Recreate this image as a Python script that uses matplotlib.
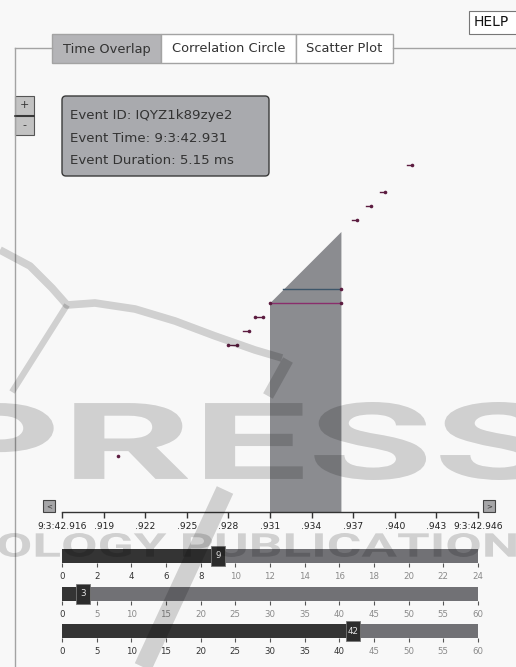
import numpy as np
import matplotlib
matplotlib.use("Agg")
import matplotlib.pyplot as plt
from matplotlib.patches import Rectangle, FancyBboxPatch, PathPatch
from matplotlib.textpath import TextPath
from matplotlib.font_manager import FontProperties
from matplotlib.transforms import Affine2D

W, H = 516, 667

# events: start (seconds past 9:3), duration (ms), row level
ev_start = [42.92004, 42.92799, 42.92905, 42.92992, 42.93100,
            42.93194, 42.93691, 42.93792, 42.93893, 42.94088]
ev_dur = [0.0, 0.65, 0.43, 0.58, 5.15, 4.18, 0.36, 0.36, 0.36, 0.36]
ev_level = [4.0, 11.9, 12.9, 13.9, 14.9, 15.9, 20.85, 21.85, 22.85, 24.8]
ev_color = ["#5c1c40"] * 10
ev_color[4] = "#8a2d6c"
ev_color[5] = "#3d566a"
selected = 4
overlap_top = 20.0

time_ticks = np.round(np.arange(42.916, 42.9461, 0.003), 3)
time_labels = ["9:3:42.916"] + ["." + f"{t:.3f}".split(".")[1] for t in time_ticks[1:-1]] + ["9:3:42.946"]

# sliders: hour, minute, second
slider_max = [24, 60, 60]
slider_step = [2, 5, 5]
slider_val = [9, 3, 42]
slider_top = [549, 587, 624]

tabs = ["Time Overlap", "Correlation Circle", "Scatter Plot"]
tab_edges = [52, 161, 296, 393]
info_lines = ["Event ID: IQYZ1k89zye2", "Event Time: 9:3:42.931",
              "Event Duration: 5.15 ms"]

BG = "#f8f8f8"
fig = plt.figure(figsize=(W / 100, H / 100), dpi=100, facecolor=BG)


def px_axes(z):
    a = fig.add_axes([0, 0, 1, 1], zorder=z)
    a.set_xlim(0, W)
    a.set_ylim(H, 0)
    a.axis("off")
    a.patch.set_alpha(0)
    return a


def frac(x0, ytop, x1, ybot):
    return [x0 / W, (H - ybot) / H, (x1 - x0) / W, (ybot - ytop) / H]


# --- page chrome ---
bg = px_axes(0)
frame_c = "#a3a3a3"
bg.plot([15, 15], [48, H], color=frame_c, lw=1)
bg.plot([15, 52], [48, 48], color=frame_c, lw=1)
bg.plot([393, W], [48, 48], color=frame_c, lw=1)
for i, name in enumerate(tabs):
    fc = "#b4b4b7" if i == 0 else "white"
    bg.add_patch(Rectangle((tab_edges[i], 34), tab_edges[i + 1] - tab_edges[i], 29,
                           fc=fc, ec=frame_c, lw=1))
    bg.text((tab_edges[i] + tab_edges[i + 1]) / 2, 49, name, ha="center", va="center",
            fontsize=9.4, color="#333333")

bg.add_patch(Rectangle((469, 11), 60, 23, fc="white", ec="#777777", lw=0.8))
bg.text(474, 22.5, "HELP", ha="left", va="center", fontsize=10, color="#111111")

bg.add_patch(Rectangle((15, 96), 19, 19, fc="#c2c2c2", ec="#555555", lw=0.8))
bg.add_patch(Rectangle((15, 116), 19, 19, fc="#c2c2c2", ec="#555555", lw=0.8))
bg.plot([15, 34], [115.5, 115.5], color="#333333", lw=1.2)
bg.text(24.5, 105, "+", ha="center", va="center", fontsize=8, color="#333333")
bg.text(24.5, 125, "-", ha="center", va="center", fontsize=8, color="#333333")

bg.add_patch(FancyBboxPatch((64, 98), 203, 76, boxstyle="round,pad=2,rounding_size=4",
                            fc="#a9aaae", ec="#3a3a3a", lw=1))
for i, line in enumerate(info_lines):
    bg.text(70, 115 + 23 * i, line, ha="left", va="center", fontsize=9.6, color="#333333")

for x0, sym in [(43, "<"), (483, ">")]:
    bg.add_patch(Rectangle((x0, 500), 12, 12, fc="#a6a6a8", ec="#444444", lw=0.8))
    bg.text(x0 + 6, 506, sym, ha="center", va="center", fontsize=5, color="#333333")

# --- time overlap plot ---
ax = fig.add_axes(frac(62, 60, 478, 512), zorder=1)
ax.patch.set_alpha(0)
ax.set_xlim(42.916, 42.946)
ax.set_ylim(0, (512 - 60) / 14)
for s in ["top", "left", "right"]:
    ax.spines[s].set_visible(False)
ax.spines["bottom"].set_color("#333333")
ax.spines["bottom"].set_linewidth(1)
ax.set_yticks([])
ax.set_xticks(time_ticks)
ax.set_xticklabels(time_labels, fontsize=6.6, color="#222222")
ax.tick_params(axis="x", direction="out", length=4.5, width=1, color="#333333", pad=3)

t0 = ev_start[selected]
t1 = t0 + ev_dur[selected] / 1000
ax.fill([t0, t0, t1, t1], [0, ev_level[selected], overlap_top, 0],
        color="#8b8c90", lw=0, zorder=1)

for i in range(len(ev_start)):
    s = ev_start[i]
    e = s + ev_dur[i] / 1000
    y = ev_level[i]
    c = ev_color[i]
    ax.plot([s, e], [y, y], color=c, lw=1, zorder=3)
    ax.plot([e], [y], "o", ms=2.6, color="#5c1c40", mew=0, zorder=4)
    if ev_dur[i] > 0.5 and i != 5:
        ax.plot([s], [y], "o", ms=2.6, color="#5c1c40", mew=0, zorder=4)

# --- sliders ---
for k in range(3):
    top = slider_top[k]
    sa = fig.add_axes(frac(62, top, 478, top + 14), zorder=2)
    sa.patch.set_alpha(0)
    mx, v = slider_max[k], slider_val[k]
    sa.set_xlim(0, mx)
    sa.set_ylim(-0.5, 0.5)
    sa.barh(0, mx, height=1, color="#717175", lw=0)
    sa.barh(0, v, height=1, color="#343434", lw=0)
    hw = 14 / 416 * mx
    sa.add_patch(Rectangle((v - hw / 2, -0.72), hw, 1.44, fc="#2c2c2c", ec="#777777",
                           lw=0.6, clip_on=False, zorder=5))
    sa.text(v, 0, str(v), ha="center", va="center", fontsize=6.3, color="#e6e6e6", zorder=6)
    for s in sa.spines.values():
        s.set_visible(False)
    sa.set_yticks([])
    ticks = np.arange(0, mx + 1, slider_step[k])
    sa.set_xticks(ticks)
    sa.set_xticklabels([str(t) for t in ticks], fontsize=6.2)
    for t, lab in zip(ticks, sa.get_xticklabels()):
        lab.set_color("#333333" if t <= v else "#8a8a8a")
    sa.tick_params(axis="x", direction="out", length=3, width=0.8, color="#555555", pad=3.5)

# --- watermark overlay ---
ov = px_axes(10)
wm = dict(color="k", alpha=0.16, solid_capstyle="butt")


def wm_text(s, x0, x1, y0, y1, weight):
    tp = TextPath((0, 0), s, size=1, prop=FontProperties(family="Roboto", weight=weight))
    bb = tp.get_extents()
    tr = (Affine2D().translate(-bb.x0, -bb.y0)
          .scale((x1 - x0) / bb.width, -(y1 - y0) / bb.height).translate(x0, y1))
    ov.add_patch(PathPatch(tr.transform_path(tp), fc="k", ec="none", alpha=0.16))


wm_text("PRESS", -58, 552, 402, 480, "bold")
wm_text("OLOGY PUBLICATIONS", -2, 550, 533, 557, "bold")
ov.plot([0, 30, 52, 67, 95, 135, 175, 215, 255, 282],
        [250, 266, 288, 305, 303, 309, 321, 336, 350, 358], lw=5.5, **wm)
ov.plot([67, 12], [305, 392], lw=4.5, **wm)
ov.plot([288, 268], [360, 396], lw=8, **wm)
ov.plot([225, 143], [490, 667], lw=13, **wm)

fig.savefig("out.png", dpi=100, facecolor=BG)
